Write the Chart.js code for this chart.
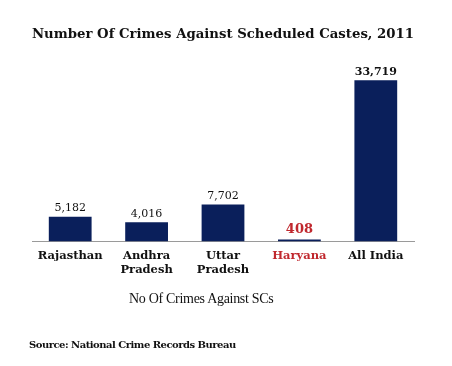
<!DOCTYPE html>
<html>
<head>
<meta charset="utf-8">
<script src="https://cdn.jsdelivr.net/npm/chart.js@4"></script>
<style>
  html, body { margin: 0; padding: 0; background: #fff; }
  .wrap { position: relative; width: 452px; height: 366px; }
  .note { position: absolute; font-family: 'DejaVu Serif', serif; color: #111; white-space: nowrap; }
  #seriesName { left: 129px; top: 291px; font-family: 'Liberation Serif', serif; font-size: 14px; letter-spacing: -0.3px; }
  #source { left: 29px; top: 339px; font-size: 10px; font-weight: bold; letter-spacing: -0.5px; }
</style>
</head>
<body>
<div class="wrap">
  <canvas id="chart" width="452" height="366"></canvas>
  <div class="note" id="seriesName">No Of Crimes Against SCs</div>
  <div class="note" id="source">Source: National Crime Records Bureau</div>
</div>
<script>
const categories = [['Rajasthan'], ['Andhra', 'Pradesh'], ['Uttar', 'Pradesh'], ['Haryana'], ['All India']];
const crimes = [5182, 4016, 7702, 408, 33719];
const seriesName = 'No Of Crimes Against SCs';
const chartTitle = 'Number Of Crimes Against Scheduled Castes, 2011';

const navy = '#0a1f5b';
const red = '#c0282e';
const serif = "'DejaVu Serif', serif";

const isHaryana = i => categories[i].join(' ') === 'Haryana';
const isTotal = i => categories[i].join(' ') === 'All India';

const valueLabels = {
  id: 'valueLabels',
  afterDatasetsDraw(chart) {
    const ctx = chart.ctx;
    const meta = chart.getDatasetMeta(0);
    ctx.save();
    ctx.textAlign = 'center';
    ctx.textBaseline = 'bottom';
    meta.data.forEach((bar, i) => {
      const strong = isHaryana(i) || isTotal(i);
      ctx.font = (strong ? 'bold ' : '') + (isHaryana(i) ? 13 : 11) + 'px ' + serif;
      ctx.fillStyle = isHaryana(i) ? red : '#111';
      ctx.fillText(crimes[i].toLocaleString('en-US'), bar.x, bar.y - 3);
    });
    ctx.restore();
  }
};

new Chart(document.getElementById('chart'), {
  type: 'bar',
  data: {
    labels: categories,
    datasets: [{
      label: seriesName,
      data: crimes,
      backgroundColor: navy,
      barPercentage: 0.56,
      categoryPercentage: 1
    }]
  },
  plugins: [valueLabels],
  options: {
    responsive: false,
    animation: false,
    layout: { padding: { left: 32, right: 38, top: 0, bottom: 81 } },
    plugins: {
      legend: { display: false },
      tooltip: { enabled: false },
      title: {
        display: true,
        text: chartTitle,
        color: '#111',
        font: { family: serif, size: 13.5, weight: 'bold' },
        padding: { top: 26, bottom: 8 }
      }
    },
    scales: {
      x: {
        grid: { display: false, drawTicks: false },
        border: { color: '#9a9a9a', width: 1 },
        ticks: {
          padding: 8,
          color: ctx => isHaryana(ctx.index) ? red : '#111',
          font: { family: serif, size: 11.5, weight: 'bold', lineHeight: 1.2 }
        }
      },
      y: {
        display: false,
        min: 0,
        max: 40000
      }
    }
  }
});
</script>
</body>
</html>
